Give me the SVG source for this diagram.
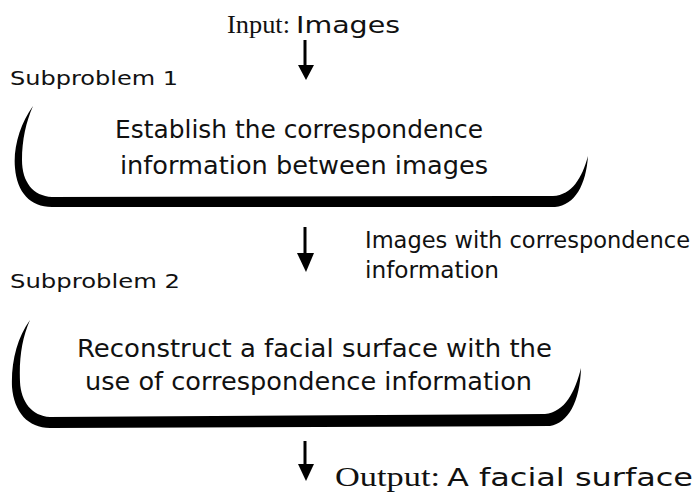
<svg xmlns="http://www.w3.org/2000/svg" width="700" height="496" viewBox="0 0 700 496">
<defs>
<style>
.sans{font-family:"DejaVu Sans","Liberation Sans",sans-serif;fill:#111;}
.serif{font-family:"Liberation Serif","DejaVu Serif",serif;fill:#111;}
.body{font-size:25px;}
.sub{font-size:20px;}
.bowl{fill:#000;stroke:none;}
.shaft{stroke:#000;stroke-width:3;fill:none;}
.head{fill:#000;}
</style>
</defs>
<rect width="700" height="496" fill="#fff"/>
<g id="input">
<text class="serif" x="227" y="33" font-size="26" textLength="63" lengthAdjust="spacingAndGlyphs">Input:</text>
<text class="sans" x="296" y="33" font-size="23" textLength="104" lengthAdjust="spacingAndGlyphs">Images</text>
</g>
<g id="subproblem1">
<text class="sans sub" x="10" y="85" textLength="168" lengthAdjust="spacingAndGlyphs">Subproblem 1</text>
<path class="bowl" d="M33,106 C20,124 13,148 15,168 C17,192 30,207 52,207 L555,207 C575,205 586,185 588,156 C582,178 572,195 553,196 L52,197 C33,196 22,182 22,160 C22,140 26,122 33,106 Z"/>
<text class="sans body" x="115" y="138" textLength="368" lengthAdjust="spacingAndGlyphs">Establish the correspondence</text>
<text class="sans body" x="120" y="174" textLength="368" lengthAdjust="spacingAndGlyphs">information between images</text>
</g>
<g id="label-correspondence">
<text class="sans" x="365" y="248" font-size="22.5" textLength="325" lengthAdjust="spacingAndGlyphs">Images with correspondence</text>
<text class="sans" x="365" y="278" font-size="22.5" textLength="134" lengthAdjust="spacingAndGlyphs">information</text>
</g>
<g id="subproblem2">
<text class="sans sub" x="10" y="288" textLength="170" lengthAdjust="spacingAndGlyphs">Subproblem 2</text>
<path class="bowl" d="M30,320 C17,338 11,362 12,387 C14,412 28,428 50,428 L550,426 C568,423 580,402 581,368 C575,392 565,412 545,414 L50,417 C32,416 21,402 20,382 C19,358 22,338 30,320 Z"/>
<text class="sans body" x="77" y="357" textLength="475" lengthAdjust="spacingAndGlyphs">Reconstruct a facial surface with the</text>
<text class="sans body" x="85" y="390" textLength="447" lengthAdjust="spacingAndGlyphs">use of correspondence information</text>
</g>
<g id="output">
<text class="serif" x="335" y="486" font-size="27" textLength="105" lengthAdjust="spacingAndGlyphs">Output:</text>
<text class="sans" x="447" y="486" font-size="25" textLength="246" lengthAdjust="spacingAndGlyphs">A facial surface</text>
</g>
<g id="connectors">
<line class="shaft" x1="305" y1="40" x2="305" y2="66"/>
<polygon class="head" points="298,65 314,65 306,80"/>
<line class="shaft" x1="305" y1="227" x2="305" y2="254"/>
<polygon class="head" points="297,253 314,253 306,272"/>
<line class="shaft" x1="305" y1="441" x2="305" y2="465"/>
<polygon class="head" points="298,464 314,464 306,481"/>
</g>
</svg>
